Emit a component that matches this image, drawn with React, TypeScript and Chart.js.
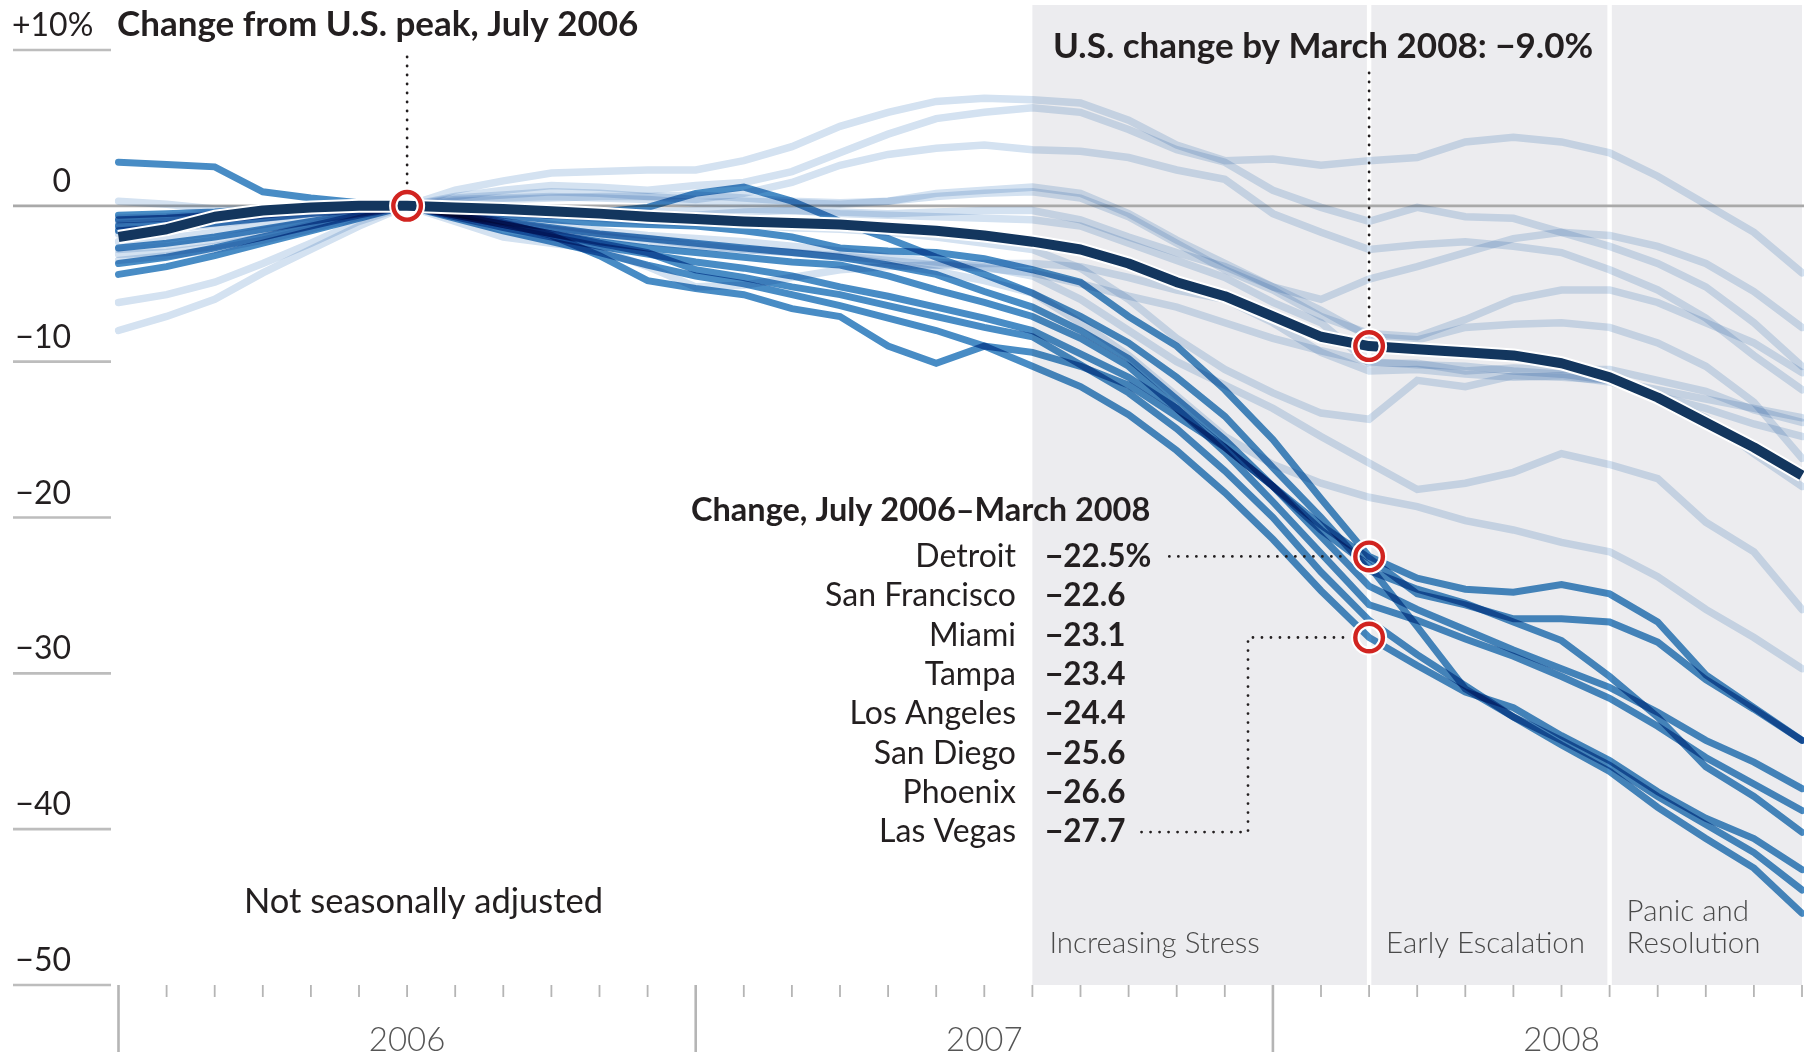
import React, { useEffect, useRef } from "react";
import { Chart, registerables } from "chart.js";

Chart.register(...registerables);

const months = [
  "Jan 2006", "Feb 2006", "Mar 2006", "Apr 2006", "May 2006", "Jun 2006",
  "Jul 2006", "Aug 2006", "Sep 2006", "Oct 2006", "Nov 2006", "Dec 2006",
  "Jan 2007", "Feb 2007", "Mar 2007", "Apr 2007", "May 2007", "Jun 2007",
  "Jul 2007", "Aug 2007", "Sep 2007", "Oct 2007", "Nov 2007", "Dec 2007",
  "Jan 2008", "Feb 2008", "Mar 2008", "Apr 2008", "May 2008", "Jun 2008",
  "Jul 2008", "Aug 2008", "Sep 2008", "Oct 2008", "Nov 2008", "Dec 2008",
];

// U.S. composite, % change from July 2006
const usComposite = [-2.0, -1.5, -0.7, -0.3, -0.1, 0.0, 0.0, -0.1, -0.2, -0.35, -0.5, -0.7, -0.85, -1.0, -1.1, -1.2, -1.4, -1.6, -1.9, -2.3, -2.8, -3.7, -4.9, -5.8, -7.1, -8.4, -9.0, -9.2, -9.4, -9.6, -10.1, -11.0, -12.3, -13.9, -15.5, -17.3];

// Highlighted metros
const detroit = [2.8, 2.65, 2.5, 0.9, 0.5, 0.2, 0, -0.3, -0.6, -0.9, -1.1, -1.2, -1.3, -1.6, -2.0, -2.7, -2.9, -3.0, -3.4, -4.1, -4.9, -7.1, -9.0, -11.8, -15.0, -18.8, -22.5, -23.9, -24.6, -24.8, -24.3, -24.9, -26.7, -30.1, -32.2, -34.3];
const sanFrancisco = [-0.6, -0.5, -0.4, -0.2, -0.1, 0, 0, -0.5, -1.1, -1.9, -3.2, -4.8, -5.3, -5.7, -6.6, -7.1, -9.0, -10.1, -9.0, -9.4, -10.3, -11.5, -13.5, -15.5, -18.0, -20.5, -22.6, -24.9, -25.6, -26.5, -26.5, -26.7, -28.0, -30.4, -32.3, -34.3];
const miami = [-3.7, -3.3, -2.7, -2.0, -1.3, -0.6, 0, -0.7, -1.4, -2.0, -2.6, -3.1, -3.6, -4.0, -4.5, -5.2, -5.8, -6.5, -7.2, -8.0, -9.5, -11.0, -13.0, -15.5, -18.0, -20.8, -23.1, -27.0, -31.0, -32.8, -34.3, -35.9, -37.9, -39.7, -41.5, -43.9];
const tampa = [-1.3, -1.2, -0.9, -0.6, -0.3, -0.1, 0, -0.2, -0.4, -0.6, -0.4, -0.1, 0.8, 1.2, 0.3, -1.0, -2.1, -3.3, -4.4, -5.6, -7.1, -8.8, -11.0, -13.5, -16.8, -20.0, -23.4, -24.6, -25.5, -26.7, -27.9, -30.2, -32.8, -36.0, -37.9, -40.2];
const losAngeles = [-0.9, -0.8, -0.6, -0.4, -0.2, -0.1, 0, -0.5, -1.0, -1.4, -1.8, -2.1, -2.4, -2.7, -3.0, -3.3, -3.8, -4.4, -5.5, -6.5, -8.0, -9.8, -12.4, -15.0, -18.0, -21.2, -24.4, -25.9, -27.2, -28.5, -29.7, -30.9, -32.5, -34.3, -35.7, -37.4];
const sanDiego = [-2.7, -2.4, -2.0, -1.5, -1.0, -0.5, 0, -0.6, -1.2, -1.8, -2.3, -2.7, -3.0, -3.3, -3.6, -3.8, -4.5, -5.4, -6.2, -7.1, -8.5, -10.3, -13.0, -15.8, -19.0, -22.3, -25.6, -26.6, -27.8, -28.9, -30.2, -31.6, -33.4, -35.4, -37.1, -38.8];
const phoenix = [-1.6, -1.4, -1.1, -0.8, -0.5, -0.2, 0, -0.6, -1.2, -1.8, -2.4, -3.0, -4.1, -4.6, -5.2, -5.7, -6.4, -7.1, -7.8, -8.4, -10.2, -12.0, -14.3, -17.0, -20.0, -23.5, -26.6, -28.8, -30.8, -32.8, -34.6, -36.3, -38.6, -40.6, -42.5, -45.4];
const lasVegas = [-4.4, -3.9, -3.2, -2.4, -1.6, -0.8, 0, -0.8, -1.6, -2.3, -3.0, -3.8, -4.5, -5.0, -5.7, -6.4, -7.2, -8.0, -9.0, -10.3, -11.6, -13.4, -15.7, -18.4, -21.4, -24.7, -27.7, -29.5, -31.2, -32.2, -34.0, -35.6, -37.6, -39.3, -40.6, -42.6];

// Other metros (light lines)
const seattle = [-8.0, -7.1, -6.0, -4.3, -2.8, -1.3, 0, 1.0, 1.6, 2.1, 2.2, 2.3, 2.3, 2.9, 3.8, 5.1, 6.0, 6.7, 6.9, 6.8, 6.6, 5.5, 3.9, 2.9, 3.0, 2.6, 2.9, 3.1, 4.1, 4.4, 4.1, 3.4, 1.9, 0.1, -1.7, -4.3];
const portland = [-6.2, -5.7, -4.9, -3.7, -2.4, -1.0, 0, 0.6, 1.0, 1.3, 1.2, 1.0, 1.3, 1.5, 2.2, 3.4, 4.6, 5.6, 6.0, 6.3, 6.0, 4.9, 3.6, 2.8, 1.0, -0.1, -1.0, -0.1, -0.7, -0.8, -1.7, -2.6, -3.7, -5.2, -7.5, -10.3];
const charlotte = [0.3, 0.1, -0.2, -0.2, 0, 0, 0, 0.3, 0.4, 0.5, 0.6, 0.6, 0.4, 0.8, 1.5, 2.6, 3.3, 3.7, 3.9, 3.6, 3.5, 3.1, 2.3, 1.7, -0.5, -1.7, -2.8, -2.5, -2.3, -2.6, -3.0, -4.1, -5.4, -7.2, -9.6, -11.8];
const dallas = [-3.1, -3.0, -2.6, -2.0, -1.2, -0.5, 0, 0.5, 0.7, 0.9, 0.8, 0.6, 0.7, 0.5, 0.3, 0.2, 0.3, 0.8, 1.0, 1.2, 0.8, -0.5, -2.2, -3.7, -5.2, -6.0, -4.7, -3.9, -3.0, -2.1, -1.7, -1.9, -2.6, -3.7, -5.5, -7.8];
const denver = [-1.5, -1.4, -1.1, -0.8, -0.5, -0.2, 0, 0.4, 0.5, 0.6, 0.5, 0.4, 0.2, 0.3, 0.2, 0.1, 0.3, 0.6, 0.8, 0.9, 0.5, -0.7, -2.4, -4.1, -5.4, -7.1, -8.2, -8.4, -7.3, -6.0, -5.4, -5.4, -6.2, -7.5, -8.8, -10.7];
const newYork = [-2.3, -2.1, -1.7, -1.2, -0.7, -0.3, 0, -0.1, -0.2, -0.3, -0.3, -0.4, -0.3, -0.2, -0.3, -0.4, -0.5, -0.4, -0.3, -0.3, -0.9, -2.0, -3.0, -3.9, -5.2, -6.7, -8.4, -8.6, -7.8, -7.6, -7.5, -7.8, -8.8, -10.3, -12.6, -16.2];
const chicago = [-0.8, -0.7, -0.5, -0.3, -0.2, -0.1, 0, -0.3, -0.5, -0.6, -0.5, -0.5, -0.6, -0.4, -0.3, -0.5, -0.6, -0.7, -0.8, -0.9, -1.3, -2.4, -3.5, -4.6, -6.2, -7.5, -10.1, -10.1, -10.6, -10.4, -10.5, -10.5, -11.2, -11.9, -13.1, -13.9];
const boston = [-2.8, -2.6, -2.2, -1.6, -1.0, -0.4, 0, -1.0, -2.0, -2.4, -2.8, -3.9, -5.2, -5.1, -4.6, -4.1, -3.9, -3.8, -3.7, -3.7, -3.9, -4.6, -5.4, -6.0, -7.5, -9.4, -10.6, -10.5, -10.8, -11.0, -10.9, -11.3, -12.2, -13.0, -14.0, -14.8];
const atlanta = [-1.0, -0.8, -0.6, -0.4, -0.2, -0.1, 0, -0.2, -0.4, -0.6, -0.8, -1.0, -1.1, -1.2, -1.4, -1.5, -1.7, -2.0, -2.4, -2.8, -4.0, -6.0, -8.5, -10.5, -12.0, -13.3, -13.7, -11.2, -11.6, -10.9, -11.0, -11.2, -12.2, -13.6, -15.9, -18.0];
const washington = [-1.8, -1.5, -1.2, -0.8, -0.5, -0.2, 0, -0.5, -1.0, -1.5, -1.9, -2.3, -2.6, -2.8, -3.0, -3.3, -3.7, -4.2, -4.8, -5.6, -7.5, -9.6, -12.2, -14.8, -16.6, -17.8, -18.7, -19.3, -20.2, -20.8, -21.6, -22.2, -23.8, -25.9, -27.7, -29.7];
const minneapolis = [-3.5, -3.2, -2.8, -2.2, -1.5, -0.7, 0, -0.4, -0.8, -1.2, -1.6, -1.9, -2.1, -2.3, -2.6, -2.9, -3.3, -3.6, -3.9, -4.5, -6.0, -8.0, -10.0, -11.5, -13.0, -14.8, -16.5, -18.2, -17.8, -17.1, -15.9, -16.6, -17.5, -20.3, -22.2, -25.9];
const cleveland = [-1.2, -1.0, -0.8, -0.6, -0.4, -0.2, 0, -0.6, -1.1, -1.5, -1.8, -2.1, -2.5, -2.8, -3.0, -3.2, -3.5, -3.8, -4.0, -4.3, -5.0, -5.8, -6.5, -7.5, -8.5, -9.3, -10.0, -10.2, -10.3, -10.6, -10.8, -11.2, -11.8, -12.4, -13.0, -13.6];

const highlightNames = ["Detroit", "San Francisco", "Miami", "Tampa", "Los Angeles", "San Diego", "Phoenix", "Las Vegas"];
const highlightSeries = [detroit, sanFrancisco, miami, tampa, losAngeles, sanDiego, phoenix, lasVegas];
const otherNames = ["Seattle", "Portland", "Charlotte", "Dallas", "Denver", "New York", "Chicago", "Boston", "Atlanta", "Washington", "Minneapolis", "Cleveland"];
const otherSeries = [seattle, portland, charlotte, dallas, denver, newYork, chicago, boston, atlanta, washington, minneapolis, cleveland];

const yTickValues = [10, 0, -10, -20, -30, -40, -50];
const yTickLabels = ["+10%", "0", "\u221210", "\u221220", "\u221230", "\u221240", "\u221250"];
const yearLabels = ["2006", "2007", "2008"];
const yearCenterIndex = [6, 18, 30];
const yearStartIndex = [0, 12, 24];
const bandStartIndex = [19, 26, 31];
const bandLabels = [["Increasing Stress"], ["Early Escalation"], ["Panic and", "Resolution"]];
const tableValues = ["\u221222.5%", "\u221222.6", "\u221223.1", "\u221223.4", "\u221224.4", "\u221225.6", "\u221226.6", "\u221227.7"];
const peakIndex = 6;
const marchIndex = 26;

const TEXT = "#231f20";
const FONT = "Lato, 'Open Sans', sans-serif";
const MID = "rgb(72,140,197)";
const LIGHT = "rgb(212,226,241)";
const NAVY = "#13365e";

function dotted(ctx: CanvasRenderingContext2D, pts: number[][]) {
  ctx.save();
  ctx.strokeStyle = TEXT;
  ctx.lineWidth = 2.8;
  ctx.lineCap = "round";
  ctx.setLineDash([0, 9]);
  ctx.beginPath();
  pts.forEach((p, i) => (i ? ctx.lineTo(p[0], p[1]) : ctx.moveTo(p[0], p[1])));
  ctx.stroke();
  ctx.restore();
}

function ring(ctx: CanvasRenderingContext2D, x: number, y: number) {
  ctx.save();
  ctx.beginPath();
  ctx.arc(x, y, 13.8, 0, Math.PI * 2);
  ctx.lineWidth = 8.5;
  ctx.strokeStyle = "#ffffff";
  ctx.stroke();
  ctx.lineWidth = 4.4;
  ctx.strokeStyle = "#d12420";
  ctx.stroke();
  ctx.restore();
}

const decor = {
  id: "decor",
  beforeDatasetsDraw(chart: any) {
    const { ctx, scales } = chart;
    const x = scales.x, y = scales.y;
    const top = 5;
    const bottom = y.getPixelForValue(-50);
    ctx.save();
    ctx.fillStyle = "#ececef";
    const bx0 = x.getPixelForValue(bandStartIndex[0]);
    const bx1 = x.getPixelForValue(months.length - 1);
    ctx.fillRect(bx0, top, bx1 - bx0, bottom - top);
    ctx.fillStyle = "#ffffff";
    for (let i = 1; i < bandStartIndex.length; i++) {
      const px = x.getPixelForValue(bandStartIndex[i]);
      ctx.fillRect(px - 2.2, top, 4.4, bottom - top);
    }
    ctx.lineWidth = 2.6;
    yTickValues.forEach((v) => {
      const py = y.getPixelForValue(v);
      ctx.beginPath();
      ctx.moveTo(13, py);
      ctx.lineTo(v === 0 ? chart.width : 111, py);
      ctx.strokeStyle = v === 0 ? "#a9a9a9" : "#bdbdbd";
      ctx.stroke();
    });
    ctx.strokeStyle = "#b5b5b5";
    for (let i = 0; i < months.length; i++) {
      const px = x.getPixelForValue(i);
      const major = yearStartIndex.includes(i);
      ctx.lineWidth = major ? 2.6 : 1.8;
      ctx.beginPath();
      ctx.moveTo(px, bottom);
      ctx.lineTo(px, major ? 1052 : bottom + 12);
      ctx.stroke();
    }
    ctx.restore();
  },
  beforeDatasetDraw(chart: any, args: any) {
    const ds = chart.data.datasets[args.index];
    if (ds.blend) {
      chart.ctx.save();
      chart.ctx.globalCompositeOperation = "multiply";
    }
  },
  afterDatasetDraw(chart: any, args: any) {
    const ds = chart.data.datasets[args.index];
    if (ds.blend) chart.ctx.restore();
  },
  afterDatasetsDraw(chart: any) {
    const { ctx, scales } = chart;
    const x = scales.x, y = scales.y;
    const px6 = x.getPixelForValue(peakIndex);
    const py6 = y.getPixelForValue(usComposite[peakIndex]);
    const px26 = x.getPixelForValue(marchIndex);
    const pyUS = y.getPixelForValue(usComposite[marchIndex]);
    const pyDet = y.getPixelForValue(detroit[marchIndex]);
    const pyLV = y.getPixelForValue(lasVegas[marchIndex]);

    dotted(ctx, [[px6, 57], [px6, py6 - 20]]);
    dotted(ctx, [[px26, 73], [px26, pyUS - 20]]);

    ctx.save();
    ctx.fillStyle = TEXT;
    ctx.textBaseline = "alphabetic";
    ctx.font = `bold 35px ${FONT}`;
    ctx.textAlign = "left";
    ctx.fillText("Change from U.S. peak, July 2006", 117, 36);
    ctx.fillText("U.S. change by March 2008: \u22129.0%", 1053, 58);
    ctx.font = `bold 32.5px ${FONT}`;
    ctx.fillText("Change, July 2006\u2013March 2008", 691, 521);

    ctx.font = `32px ${FONT}`;
    yTickValues.forEach((v, i) => {
      const py = y.getPixelForValue(v) - 14;
      if (i === 0) {
        ctx.textAlign = "left";
        ctx.fillText(yTickLabels[i], 12, py);
      } else {
        ctx.textAlign = "right";
        ctx.fillText(yTickLabels[i], 71, py);
      }
    });

    const rowY0 = 567;
    const rowStep = 39.3;
    let detEnd = 0, lvEnd = 0;
    highlightNames.forEach((name, i) => {
      const by = rowY0 + i * rowStep;
      ctx.font = `32px ${FONT}`;
      ctx.textAlign = "right";
      ctx.fillText(name, 1016, by);
      ctx.font = `bold 31.5px ${FONT}`;
      ctx.textAlign = "left";
      ctx.fillText(tableValues[i], 1045, by);
      const w = ctx.measureText(tableValues[i]).width;
      if (i === 0) detEnd = 1045 + w;
      if (i === highlightNames.length - 1) lvEnd = 1045 + w;
    });
    const lvRowY = rowY0 + 7 * rowStep - 10;
    dotted(ctx, [[detEnd + 18, pyDet], [px26 - 20, pyDet]]);
    dotted(ctx, [[lvEnd + 16, lvRowY], [1248, lvRowY], [1248, pyLV], [px26 - 20, pyLV]]);

    ctx.font = `34.5px ${FONT}`;
    ctx.textAlign = "left";
    ctx.fillText("Not seasonally adjusted", 244, 913);

    ctx.fillStyle = "#4a4a4a";
    ctx.font = `300 29.5px ${FONT}`;
    bandLabels.forEach((lines, i) => {
      const lx = x.getPixelForValue(bandStartIndex[i]) + 17;
      lines.forEach((t, j) => {
        ctx.fillText(t, lx, 953 - (lines.length - 1 - j) * 32);
      });
    });

    ctx.fillStyle = "#555555";
    ctx.font = `300 33px ${FONT}`;
    ctx.textAlign = "center";
    yearLabels.forEach((t, i) => {
      ctx.fillText(t, x.getPixelForValue(yearCenterIndex[i]), 1051);
    });
    ctx.restore();

    ring(ctx, px6, py6);
    ring(ctx, px26, pyUS);
    ring(ctx, px26, pyDet);
    ring(ctx, px26, pyLV);
  },
};

export default function App() {
  const ref = useRef<HTMLCanvasElement | null>(null);
  useEffect(() => {
    document.body.style.margin = "0";
    const canvas = ref.current;
    if (!canvas) return;
    const datasets: any[] = [];
    datasets.push({
      label: "U.S.",
      data: usComposite,
      borderColor: NAVY,
      borderWidth: 10,
      borderCapStyle: "butt",
      borderJoinStyle: "round",
      pointRadius: 0,
      order: 0,
    });
    datasets.push({
      label: "U.S. outline",
      data: usComposite,
      borderColor: "#ffffff",
      borderWidth: 14,
      borderCapStyle: "butt",
      borderJoinStyle: "round",
      pointRadius: 0,
      order: 1,
    });
    highlightNames.forEach((n, i) => {
      datasets.push({
        label: n,
        data: highlightSeries[i],
        borderColor: MID,
        borderWidth: 7,
        borderCapStyle: "round",
        borderJoinStyle: "miter",
        pointRadius: 0,
        blend: true,
        order: 2,
      });
    });
    otherNames.forEach((n, i) => {
      datasets.push({
        label: n,
        data: otherSeries[i],
        borderColor: LIGHT,
        borderWidth: 7.5,
        borderCapStyle: "round",
        borderJoinStyle: "miter",
        pointRadius: 0,
        blend: true,
        order: 3,
      });
    });
    const chart = new Chart(canvas, {
      type: "line",
      data: { labels: months, datasets },
      options: {
        animation: false,
        responsive: false,
        devicePixelRatio: 1,
        layout: { padding: { left: 118.5, right: 2, top: 50, bottom: 70 } },
        plugins: { legend: { display: false }, tooltip: { enabled: false } },
        elements: { line: { tension: 0 }, point: { radius: 0 } },
        scales: {
          x: { type: "category", display: false, offset: false },
          y: { type: "linear", display: false, min: -50, max: 10 },
        },
      } as any,
      plugins: [decor as any],
    });
    return () => chart.destroy();
  }, []);
  return (
    <div style={{ width: 1804, height: 1055, position: "relative", background: "#fff" }}>
      <canvas ref={ref} width={1804} height={1055} style={{ display: "block" }} />
    </div>
  );
}
